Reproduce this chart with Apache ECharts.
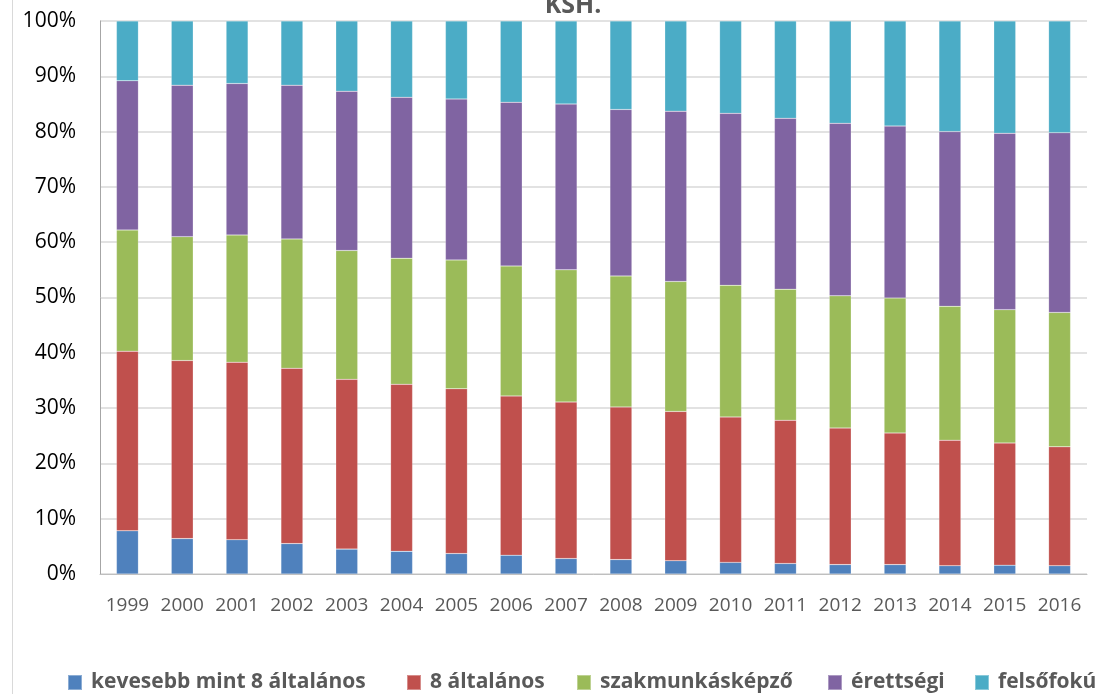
<!DOCTYPE html>
<html>
<head>
<meta charset="utf-8">
<script src="https://cdn.jsdelivr.net/npm/echarts@6/dist/echarts.min.js"></script>
<style>
html,body{margin:0;padding:0;background:#fff;}
#c{width:1099px;height:694px;}
</style>
</head>
<body>
<div id="c"></div>
<script>
var years = ['1999','2000','2001','2002','2003','2004','2005','2006','2007','2008','2009','2010','2011','2012','2013','2014','2015','2016'];
var seriesNames = ['kevesebb mint 8 általános','8 általános','szakmunkásképző','érettségi','felsőfokú'];
var kevesebb = [7.8,6.4,6.2,5.5,4.5,4.1,3.7,3.4,2.8,2.6,2.4,2.1,1.9,1.7,1.7,1.5,1.6,1.5];
var altalanos8 = [32.5,32.2,32.1,31.7,30.7,30.2,29.8,28.8,28.3,27.6,27.0,26.3,25.9,24.7,23.8,22.7,22.1,21.5];
var szakmunkas = [21.9,22.4,23.0,23.4,23.3,22.8,23.3,23.5,23.9,23.7,23.5,23.8,23.7,23.9,24.4,24.2,24.1,24.3];
var erettsegi = [27.0,27.4,27.4,27.8,28.8,29.1,29.1,29.6,30.0,30.1,30.8,31.1,30.9,31.2,31.1,31.6,31.9,32.5];
var felsofoku = [10.8,11.6,11.3,11.6,12.7,13.8,14.1,14.7,15.0,16.0,16.3,16.7,17.6,18.5,19.0,20.0,20.3,20.2];
var yTicks = ['0%','10%','20%','30%','40%','50%','60%','70%','80%','90%','100%'];
var titleText = 'KSH.';

var colors = ['#4f81bd','#c0504d','#9bbb59','#8064a2','#4bacc6'];
var dataSets = [kevesebb, altalanos8, szakmunkas, erettsegi, felsofoku];
var legendLefts = [62, 401, 571, 822, 969];

var chart = echarts.init(document.getElementById('c'));
chart.setOption({
  animation: false,
  color: colors,
  title: {
    text: titleText,
    left: 568, top: -12, textAlign: 'center',
    textStyle: {fontFamily: 'Open Sans', fontSize: 25, fontWeight: 'bold', color: '#595959'}
  },
  graphic: [{
    type: 'line', shape: {x1: 12.5, y1: 0, x2: 12.5, y2: 694},
    style: {stroke: '#d9d9d9', lineWidth: 1}
  }],
  legend: seriesNames.map(function(n, i){
    return {
      top: 667, left: legendLefts[i],
      itemWidth: 14, itemHeight: 15,
      icon: 'rect',
      textStyle: {fontFamily: 'Open Sans', fontSize: 21, fontWeight: 'bold', color: '#595959', padding: [0,0,0,4]},
      data: [n]
    };
  }),
  grid: {left: 100, right: 12, top: 21, bottom: 120, containLabel: false},
  xAxis: {
    type: 'category', data: years,
    axisLine: {lineStyle: {color: '#bfbfbf'}},
    axisTick: {show: false},
    axisLabel: {fontFamily: 'Open Sans', fontSize: 19, color: '#595959', margin: 22, interval: 0}
  },
  yAxis: {
    type: 'value', min: 0, max: 100, interval: 10,
    axisLine: {show: true, lineStyle: {color: '#a6a6a6'}},
    axisTick: {show: false},
    splitLine: {lineStyle: {color: '#d9d9d9', width: 1.5}},
    axisLabel: {
      fontFamily: 'Open Sans', fontSize: 21, color: '#000', margin: 24,
      formatter: function(v){ return yTicks[Math.round(v/10)]; }
    }
  },
  series: dataSets.map(function(d, i){
    return {
      name: seriesNames[i], type: 'bar', stack: 'total', data: d,
      barWidth: '40%',
      itemStyle: {color: colors[i], borderColor: 'rgba(255,255,255,0.35)', borderWidth: 0.5}
    };
  })
});
</script>
</body>
</html>
